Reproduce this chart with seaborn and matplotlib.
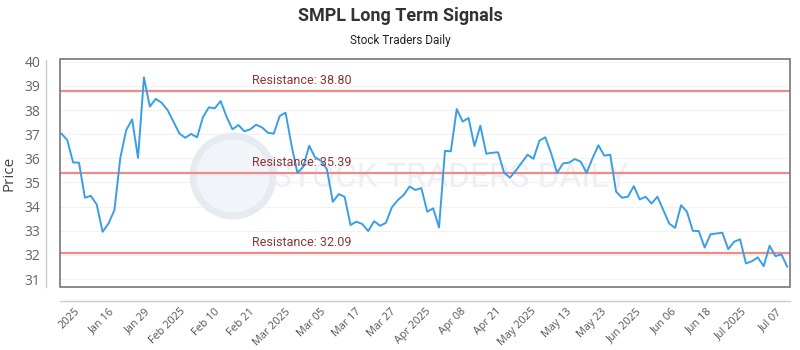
import numpy as np
import pandas as pd
import matplotlib
matplotlib.use("Agg")
import matplotlib.pyplot as plt
from matplotlib.patches import Rectangle, Circle
import seaborn as sns

prices = [
    37.03, 36.76, 35.83, 35.82, 34.37, 34.45, 34.09, 32.96, 33.30, 33.86,
    36.02, 37.17, 37.61, 36.02, 39.35, 38.14, 38.46, 38.30, 38.00, 37.52,
    37.03, 36.85, 37.01, 36.87, 37.70, 38.11, 38.07, 38.37, 37.72, 37.20,
    37.38, 37.12, 37.20, 37.39, 37.28, 37.06, 37.02, 37.75, 37.89, 36.55,
    35.40, 35.65, 36.52, 36.04, 35.90, 35.55, 34.20, 34.52, 34.41, 33.24,
    33.38, 33.28, 32.99, 33.40, 33.21, 33.33, 33.97, 34.27, 34.48, 34.83,
    34.69, 34.77, 33.79, 33.93, 33.14, 36.31, 36.29, 38.04, 37.52, 37.67,
    36.51, 37.35, 36.19, 36.23, 36.25, 35.42, 35.20, 35.49, 35.82, 36.15,
    35.98, 36.73, 36.87, 36.20, 35.40, 35.79, 35.82, 35.97, 35.86, 35.40,
    36.00, 36.54, 36.11, 36.15, 34.62, 34.37, 34.41, 34.85, 34.30, 34.41,
    34.13, 34.41, 33.86, 33.30, 33.12, 34.06, 33.79, 33.00, 32.99, 32.31,
    32.86, 32.89, 32.92, 32.24, 32.55, 32.65, 31.65, 31.74, 31.90, 31.54,
    32.38, 31.95, 32.03, 31.51,
]

tick_labels = [
    "2025", "Jan 16", "Jan 29", "Feb 2025", "Feb 10", "Feb 21", "Mar 2025",
    "Mar 05", "Mar 17", "Mar 27", "Apr 2025", "Apr 08", "Apr 21", "May 2025",
    "May 13", "May 23", "Jun 2025", "Jun 06", "Jun 18", "Jul 2025", "Jul 07",
]

resistance_levels = [38.80, 35.39, 32.09]
y_ticks = [31, 32, 33, 34, 35, 36, 37, 38, 39, 40]

title = "SMPL Long Term Signals"
subtitle = "Stock Traders Daily"

df = pd.DataFrame({"idx": np.arange(len(prices)), "price": prices})

sns.set_theme(style="white")
plt.rcParams["font.family"] = ["Open Sans", "DejaVu Sans"]

fig = plt.figure(figsize=(8, 3.5), dpi=100)
ax = fig.add_axes([0.075, 0.181, 0.9125, 0.649])

# spines first (set_position resets ticks)
for side in ["top", "right"]:
    ax.spines[side].set_visible(False)
for side in ["left", "bottom"]:
    ax.spines[side].set_position(("outward", 10))
    ax.spines[side].set_color("#cccccc")
    ax.spines[side].set_linewidth(1.0)

# grid
for yv in y_ticks:
    ax.axhline(yv, color="#f2f2f2", lw=0.8, zorder=0)

# watermark (circle logo + text)
ax.add_patch(Circle((2.33, 1.74), 0.40, transform=fig.dpi_scale_trans,
                    fc="#f1f4f8", ec="#e6ebf1", lw=5, zorder=0.5,
                    clip_on=False))
ax.text(0.535, 0.478, "STOCK TRADERS DAILY", transform=ax.transAxes,
        ha="center", va="center", fontsize=24, color="#eceff4",
        family=["Roboto", "DejaVu Sans"], zorder=0.6)

sns.lineplot(data=df, x="idx", y="price", ax=ax, color="#3a9ee6",
             lw=1.4, zorder=3)

for lvl in resistance_levels:
    ax.axhline(lvl, color="#ee8a8a", lw=1.6, zorder=2)
    ax.annotate(f"Resistance: {lvl:.2f}", xy=(32.3, lvl), xytext=(0, 3),
                textcoords="offset points", ha="left", va="bottom",
                fontsize=9, color="#8b3535", family=["Roboto", "DejaVu Sans"],
                zorder=4)

ax.set_xlim(-0.22, 123.46)
ax.set_ylim(30.69, 40.09)
ax.tick_params(axis="both", length=0, pad=4)
ax.set_yticks(y_ticks)
ax.set_yticklabels([str(v) for v in y_ticks], fontsize=10, color="#666666")
ax.set_xticks(np.linspace(3.5, 122.5, len(tick_labels)))
ax.set_xticklabels(tick_labels, fontsize=7.8, color="#555555",
                   rotation=45, ha="right")
ax.set_xlabel("")
ax.set_ylabel("Price", fontsize=11, color="#444444", labelpad=6)

ax.add_patch(Rectangle((0, 0), 1, 1, transform=ax.transAxes, fill=False,
                       ec="#777777", lw=1.2, zorder=5, clip_on=False))

fig.text(0.5, 0.955, title, ha="center", va="center", fontsize=13,
         fontweight="bold", color="#333333", family=["Roboto", "DejaVu Sans"])
fig.text(0.5, 0.885, subtitle, ha="center", va="center", fontsize=8.5,
         color="#222222", family=["Roboto", "DejaVu Sans"])

fig.savefig("out.png", dpi=100)
